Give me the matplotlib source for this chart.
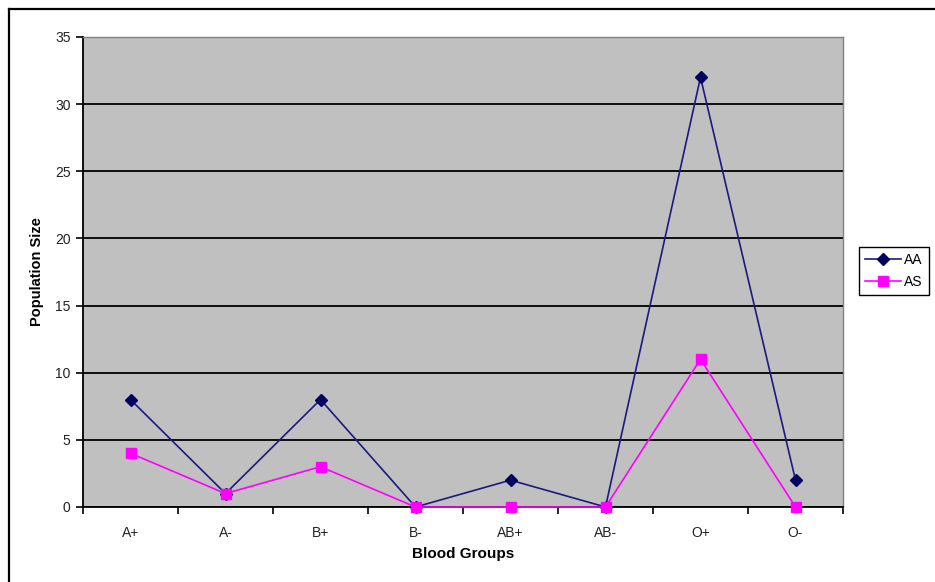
import numpy as np
import matplotlib.pyplot as plt
from matplotlib.lines import Line2D

plt.rcParams['font.family'] = ['Liberation Sans', 'DejaVu Sans']

groups = ['A+', 'A-', 'B+', 'B-', 'AB+', 'AB-', 'O+', 'O-']
aa_counts = [8, 1, 8, 0, 2, 0, 32, 2]
as_counts = [4, 1, 3, 0, 0, 0, 11, 0]
y_ticks = [0, 5, 10, 15, 20, 25, 30, 35]

W, H = 935, 582
fig = plt.figure(figsize=(W / 100, H / 100), dpi=100)
ax = fig.add_axes([83 / W, 1 - 507 / H, 760 / W, 470 / H])
ax.set_facecolor('#c0c0c0')

x = np.arange(len(groups)) + 0.5
ax.plot(x, aa_counts, color='#1a1a80', lw=1.2, marker='D', ms=6,
        mfc='#000060', mec='#000060', clip_on=False, zorder=3, label='AA')
ax.plot(x, as_counts, color='#ff00ff', lw=1.2, marker='s', ms=7.5,
        mfc='#ff00ff', mec='#ff00ff', clip_on=False, zorder=4, label='AS')

ax.set_xlim(0, len(groups))
ax.set_ylim(0, 35)
ax.set_yticks(y_ticks)
ax.yaxis.grid(True, color='black', lw=1.3)
ax.set_axisbelow(True)

# category boundaries get the tick marks, names sit between them
ax.set_xticks(np.arange(len(groups) + 1))
ax.set_xticklabels([])
ax.set_xticks(x, minor=True)
ax.set_xticklabels(groups, minor=True)
ax.tick_params(axis='x', which='major', length=5, width=1.2, direction='out')
ax.tick_params(axis='x', which='minor', length=0, pad=14, labelsize=10,
               labelcolor='#222222')
ax.tick_params(axis='y', length=5, width=1.2, direction='out', labelsize=10,
               pad=4, labelcolor='#222222')

for side in ['left', 'bottom']:
    ax.spines[side].set_color('black')
    ax.spines[side].set_linewidth(1.3)
for side in ['top', 'right']:
    ax.spines[side].set_color('#808080')
    ax.spines[side].set_linewidth(1.0)

ax.set_xlabel('Blood Groups', fontsize=11, fontweight='bold', labelpad=5)
ax.set_ylabel('Population Size', fontsize=10.5, fontweight='bold', labelpad=8)

leg = ax.legend(loc='upper left', bbox_to_anchor=(859 / W, 1 - 247 / H),
                bbox_transform=fig.transFigure, borderaxespad=0,
                fancybox=False, edgecolor='black', framealpha=1,
                fontsize=10, handlelength=2.6, handletextpad=0.2,
                borderpad=0.45, labelspacing=0.55)
leg.get_frame().set_linewidth(1.0)

# outer chart frame, top and left edges
fig.add_artist(Line2D([9 / W, 9 / W], [0, 1 - 9 / H], color='black', lw=1.6,
                      transform=fig.transFigure))
fig.add_artist(Line2D([9 / W, 1], [1 - 9 / H, 1 - 9 / H], color='black', lw=1.6,
                      transform=fig.transFigure))

fig.savefig('out.png', dpi=100)
